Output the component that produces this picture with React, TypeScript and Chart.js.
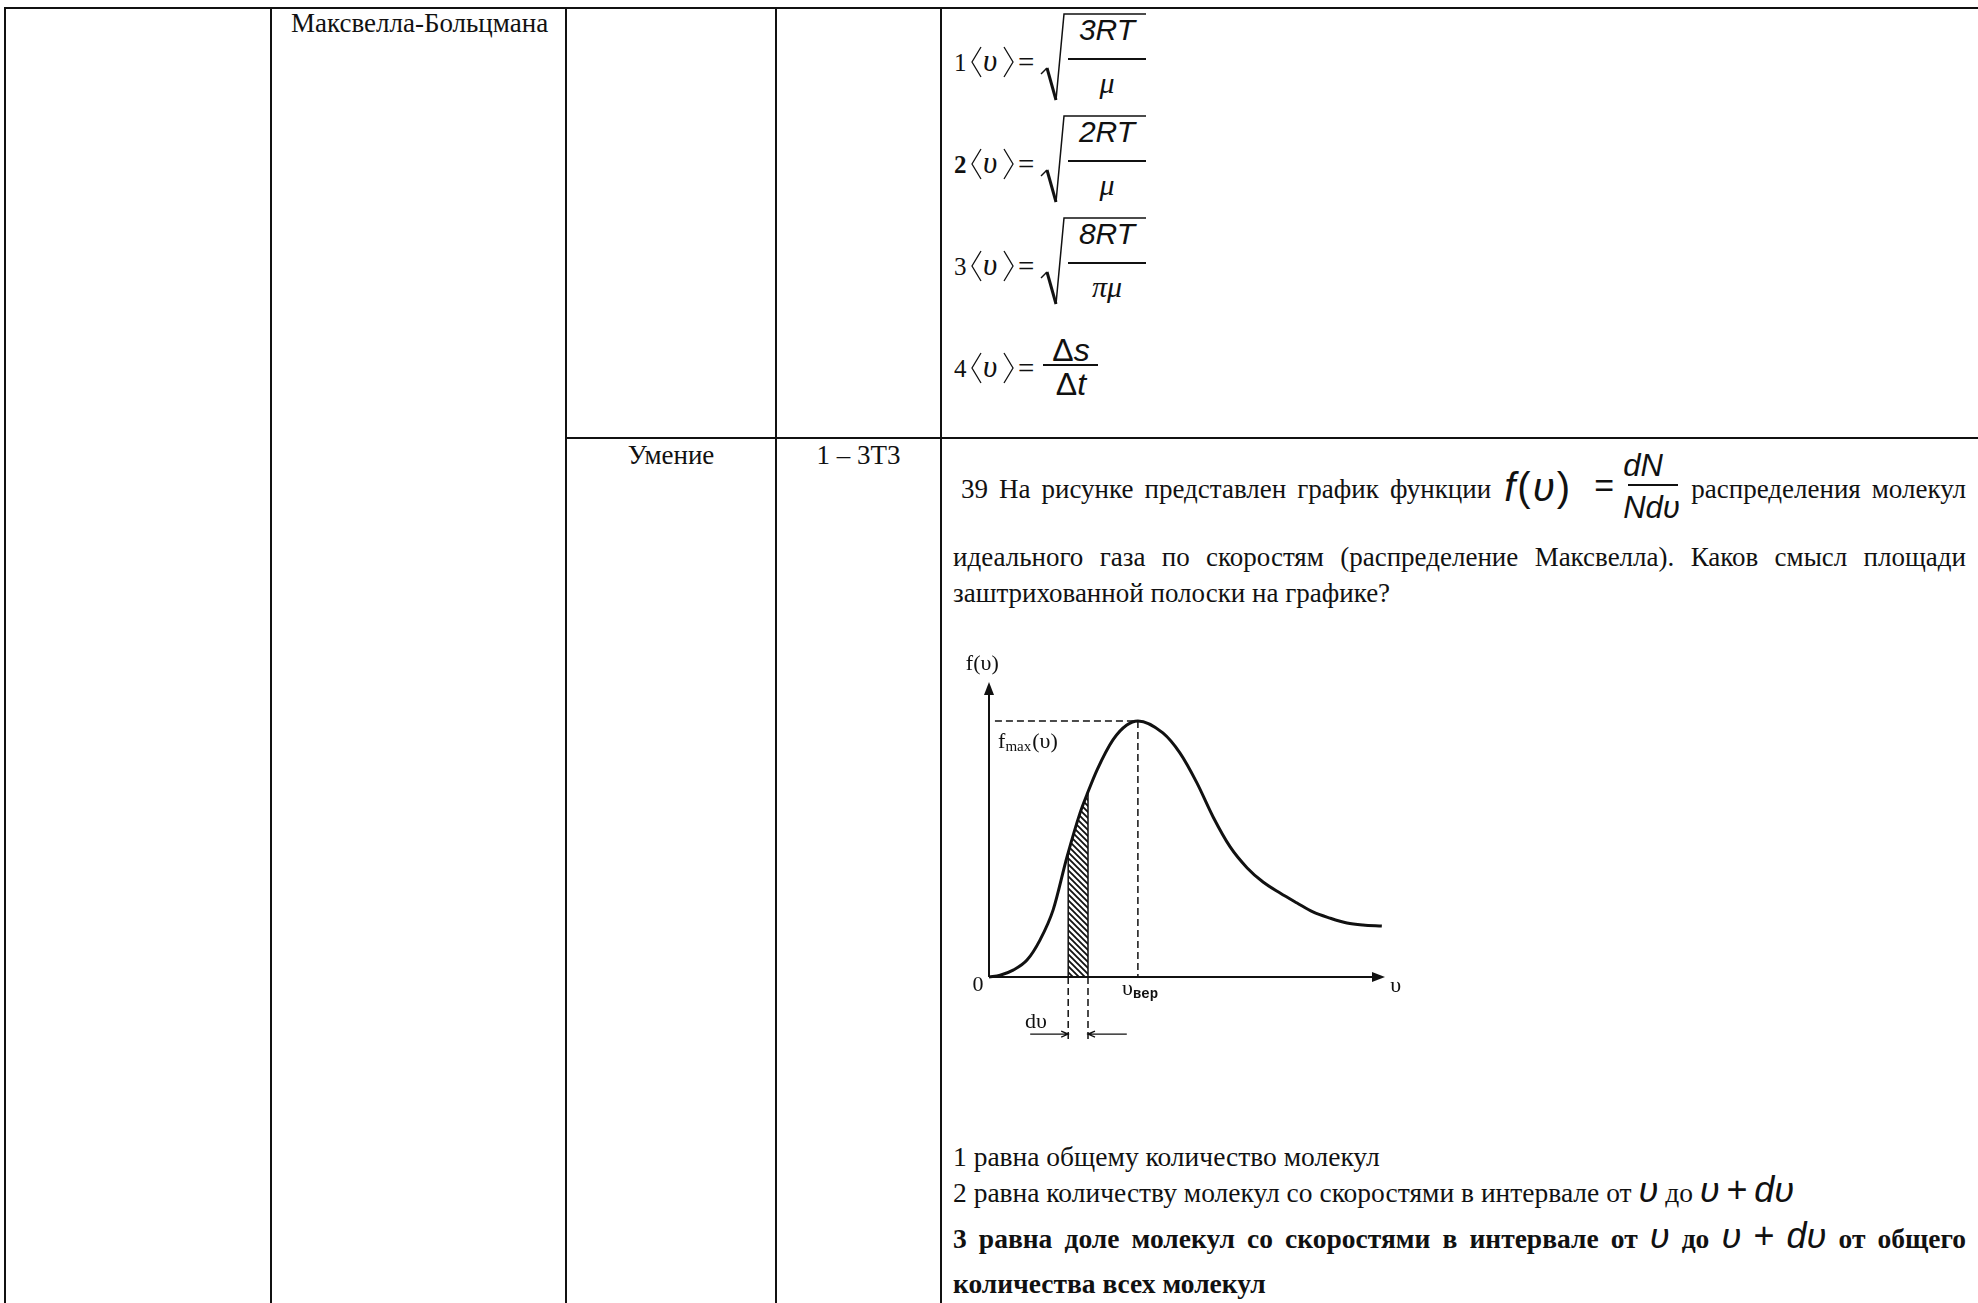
import React, { useEffect, useRef } from "react";
import { Chart, registerables } from "chart.js";

Chart.register(...registerables);

const INK = "#111111";
const SERIF = '"Liberation Serif", "Times New Roman", serif';
const SANS = '"Liberation Sans", Arial, sans-serif';
const MONO = '"Liberation Mono", "Courier New", monospace';
const FS = 27;

// ---------- chart data (Maxwell distribution sketch) ----------
const speedValues = [0, 0.28, 0.61, 0.96, 1.29, 1.62, 1.97, 2.3, 2.47, 2.73, 3.13, 3.48, 3.76, 4.39, 4.82, 5.25, 5.66, 6.09, 6.52, 6.92, 7.35, 7.78, 8.18, 8.61, 9.04, 9.44, 9.92];
const densityValues = [0, 0.007, 0.027, 0.066, 0.145, 0.262, 0.469, 0.641, 0.711, 0.809, 0.926, 0.984, 1.0, 0.953, 0.875, 0.758, 0.625, 0.508, 0.426, 0.371, 0.328, 0.289, 0.254, 0.23, 0.211, 0.203, 0.199];
const stripSpeeds = [2.0, 2.25, 2.5];
const stripDensities = [0.487, 0.615, 0.722];
const peakSpeed = 3.76;
const peakDensity = 1.0;
const speedAxisMax = 10;
const densityAxisMax = 1.152;
const chartLabels = ["f(υ)", "f", "max", "(υ)", "0", "υ", "вер", "υ", "dυ"];

// ---------- document text ----------
const topicText = "Максвелла-Больцмана";
const skillText = "Умение";
const taskTypeText = "1 – 3Т3";
const optionNumbers = ["1", "2", "3", "4"];
const radicandNumerators = ["3RT", "2RT", "8RT"];
const radicandDenominators = ["μ", "μ", "πμ"];
const questionLine1 = ["39 На рисунке представлен график функции", "распределения молекул"];
const questionLine2 = "идеального газа по скоростям (распределение Максвелла). Каков смысл площади";
const questionLine3 = "заштрихованной полоски на графике?";
const answer1 = "1 равна общему количество молекул";
const answer2 = "2 равна количеству молекул со скоростями в интервале от";
const answer3 = "3 равна доле молекул со скоростями в интервале от";
const answer3tail = "от общего";
const answer4 = "количества всех молекул";

function Txt(p: any) {
  const size = p.size ?? FS;
  const font = p.font ?? SERIF;
  const asc = font === SANS ? 0.8465 : 0.8375;
  return (
    <div
      style={{
        position: "absolute",
        left: p.x,
        top: p.base - asc * size,
        width: p.w,
        whiteSpace: p.w ? "normal" : "nowrap",
        fontFamily: font,
        fontSize: size,
        lineHeight: size + "px",
        fontWeight: p.bold ? 700 : 400,
        fontStyle: p.italic ? "italic" : "normal",
        textAlign: p.align ?? "left",
        textAlignLast: p.justify ? "justify" : undefined,
        letterSpacing: p.ls,
        color: INK,
      }}
    >
      {p.children}
    </div>
  );
}

function M(p: any) {
  return (
    <span style={{ fontFamily: SANS, fontStyle: p.up ? "normal" : "italic", fontSize: p.size ?? 36, lineHeight: 0, fontWeight: 400 }}>
      {p.children}
    </span>
  );
}

function Rule(p: any) {
  return <div style={{ position: "absolute", left: p.x, top: p.y, width: p.w, height: p.h, background: INK }} />;
}

function InlineFraction() {
  const abs = (left: number, base: number, size: number, font: string, italic: boolean, extra: any = {}) => ({
    position: "absolute" as const,
    left,
    top: base - (font === SANS ? 0.8465 : 0.8375) * size,
    fontFamily: font,
    fontSize: size,
    lineHeight: size + "px",
    fontStyle: italic ? "italic" : "normal",
    whiteSpace: "nowrap" as const,
    ...extra,
  });
  return (
    <span style={{ display: "inline-block", position: "relative", width: 178, height: 0, verticalAlign: "baseline" }}>
      <span style={abs(2, 2, 40, SANS, false, { letterSpacing: 2 })}>
        <i>f</i>(<i>υ</i>)
      </span>
      <span style={abs(92, -2, 34, SANS, false)}>=</span>
      <span style={{ position: "absolute", left: 126, top: -14, width: 50, height: 2, background: INK }} />
      <span style={abs(121, -22, 31, SANS, true, { width: 60, textAlign: "center" })}>dN</span>
      <span style={abs(121, 20, 31, SANS, true, { width: 60, textAlign: "center" })}>Nd&#965;</span>
    </span>
  );
}

function Formulas() {
  const step = 102;
  const items: any[] = [];
  optionNumbers.forEach((n, k) => {
    const T = k * step;
    items.push(
      <Txt key={"n" + k} x={954} base={71 + T} size={25} bold={k === 1}>
        {n}
      </Txt>
    );
    items.push(
      <Txt key={"u" + k} x={983} base={71 + T} size={31} italic>
        υ
      </Txt>
    );
    items.push(
      <Txt key={"e" + k} x={1018} base={72 + T} size={29}>
        =
      </Txt>
    );
    if (k < 3) {
      items.push(
        <Txt key={"num" + k} x={1066} w={82} align="center" base={40 + T} size={30} font={SANS} italic>
          {radicandNumerators[k]}
        </Txt>
      );
      items.push(<Rule key={"bar" + k} x={1068} y={58 + T} w={78} h={2} />);
      items.push(
        <Txt key={"den" + k} x={1068} w={78} align="center" base={93 + T} size={30} italic>
          {radicandDenominators[k]}
        </Txt>
      );
    } else {
      items.push(
        <Txt key="num4" x={1043} w={56} align="center" base={55 + T} size={32} font={SANS}>
          Δ<i>s</i>
        </Txt>
      );
      items.push(<Rule key="bar4" x={1043} y={58 + T} w={55} h={2} />);
      items.push(
        <Txt key="den4" x={1043} w={56} align="center" base={89 + T} size={32} font={SANS}>
          Δ<i>t</i>
        </Txt>
      );
    }
  });
  const shapes: any[] = [];
  optionNumbers.forEach((_, k) => {
    const T = k * step;
    shapes.push(<polyline key={"lb" + k} points={`981,${47 + T} 972,${62 + T} 981,${77 + T}`} fill="none" stroke={INK} strokeWidth={1.3} />);
    shapes.push(<polyline key={"rb" + k} points={`1004,${47 + T} 1013,${62 + T} 1004,${77 + T}`} fill="none" stroke={INK} strokeWidth={1.3} />);
    if (k < 3) {
      shapes.push(<polyline key={"r1" + k} points={`1041,${74 + T} 1047,${68 + T}`} fill="none" stroke={INK} strokeWidth={1.4} />);
      shapes.push(<polyline key={"r2" + k} points={`1047,${68 + T} 1056,${100 + T}`} fill="none" stroke={INK} strokeWidth={3} />);
      shapes.push(<polyline key={"r3" + k} points={`1056,${100 + T} 1064,${14 + T} 1146,${14 + T}`} fill="none" stroke={INK} strokeWidth={1.5} />);
    }
  });
  return (
    <>
      <svg style={{ position: "absolute", left: 0, top: 0 }} width={1978} height={440}>
        {shapes}
      </svg>
      {items}
    </>
  );
}

function MaxwellChart() {
  const ref = useRef<HTMLCanvasElement | null>(null);
  useEffect(() => {
    const canvas = ref.current!;
    const ctx0 = canvas.getContext("2d")!;
    const tile = document.createElement("canvas");
    const s = 6;
    tile.width = s;
    tile.height = s;
    const g = tile.getContext("2d")!;
    g.strokeStyle = INK;
    g.lineWidth = 1.8;
    g.beginPath();
    for (const k of [-s, 0, s]) {
      g.moveTo(-1, -1 + k);
      g.lineTo(s + 1, s + 1 + k);
    }
    g.stroke();
    const hatch = ctx0.createPattern(tile, "repeat");

    const decor = {
      id: "maxwellDecor",
      afterDatasetsDraw(chart: any) {
        const ctx = chart.ctx;
        const xs = chart.scales.x;
        const ys = chart.scales.y;
        const X = (v: number) => xs.getPixelForValue(v);
        const Y = (f: number) => ys.getPixelForValue(f);
        ctx.save();
        ctx.strokeStyle = INK;
        ctx.fillStyle = INK;
        // axes
        ctx.lineWidth = 2;
        ctx.beginPath();
        ctx.moveTo(X(0), Y(0));
        ctx.lineTo(X(speedAxisMax) - 8, Y(0));
        ctx.moveTo(X(0), Y(0));
        ctx.lineTo(X(0), Y(densityAxisMax) + 8);
        ctx.stroke();
        ctx.beginPath();
        ctx.moveTo(X(speedAxisMax), Y(0));
        ctx.lineTo(X(speedAxisMax) - 13, Y(0) - 5);
        ctx.lineTo(X(speedAxisMax) - 13, Y(0) + 5);
        ctx.closePath();
        ctx.fill();
        ctx.beginPath();
        ctx.moveTo(X(0), Y(densityAxisMax));
        ctx.lineTo(X(0) - 5, Y(densityAxisMax) + 13);
        ctx.lineTo(X(0) + 5, Y(densityAxisMax) + 13);
        ctx.closePath();
        ctx.fill();
        // dashed guides to the peak
        ctx.lineWidth = 1.5;
        ctx.setLineDash([7, 4]);
        ctx.beginPath();
        ctx.moveTo(X(0.15), Y(peakDensity));
        ctx.lineTo(X(peakSpeed), Y(peakDensity));
        ctx.moveTo(X(peakSpeed), Y(peakDensity));
        ctx.lineTo(X(peakSpeed), Y(0));
        const a = stripSpeeds[0];
        const b = stripSpeeds[stripSpeeds.length - 1];
        ctx.moveTo(X(a), Y(0));
        ctx.lineTo(X(a), Y(-0.246));
        ctx.moveTo(X(b), Y(0));
        ctx.lineTo(X(b), Y(-0.246));
        ctx.stroke();
        ctx.setLineDash([]);
        // strip edges
        ctx.beginPath();
        ctx.moveTo(X(a), Y(0));
        ctx.lineTo(X(a), Y(stripDensities[0]));
        ctx.moveTo(X(b), Y(0));
        ctx.lineTo(X(b), Y(stripDensities[stripDensities.length - 1]));
        ctx.stroke();
        // dv arrows
        const ay = Y(-0.223);
        ctx.lineWidth = 1.3;
        ctx.beginPath();
        ctx.moveTo(X(1.04), ay);
        ctx.lineTo(X(a), ay);
        ctx.moveTo(X(a) - 7, ay - 3);
        ctx.lineTo(X(a), ay);
        ctx.lineTo(X(a) - 7, ay + 3);
        ctx.moveTo(X(3.48), ay);
        ctx.lineTo(X(b), ay);
        ctx.moveTo(X(b) + 7, ay - 3);
        ctx.lineTo(X(b), ay);
        ctx.lineTo(X(b) + 7, ay + 3);
        ctx.stroke();
        // labels
        ctx.textBaseline = "alphabetic";
        ctx.font = `22px ${SERIF}`;
        ctx.textAlign = "center";
        ctx.fillText(chartLabels[0], X(-0.17), Y(1.2));
        ctx.fillText(chartLabels[4], X(-0.28), Y(-0.055));
        ctx.textAlign = "left";
        let fx = X(0.23);
        const fy = Y(0.895);
        ctx.fillText(chartLabels[1], fx, fy);
        fx += ctx.measureText(chartLabels[1]).width;
        ctx.font = `15px ${SERIF}`;
        ctx.fillText(chartLabels[2], fx, fy + 3);
        fx += ctx.measureText(chartLabels[2]).width + 1;
        ctx.font = `22px ${SERIF}`;
        ctx.fillText(chartLabels[3], fx, fy);
        let vx = X(3.36);
        const vy = Y(-0.07);
        ctx.fillText(chartLabels[5], vx, vy);
        vx += ctx.measureText(chartLabels[5]).width;
        ctx.font = `bold 14px ${MONO}`;
        ctx.fillText(chartLabels[6], vx, vy + 3);
        ctx.font = `22px ${SERIF}`;
        ctx.fillText(chartLabels[7], X(10.13), Y(-0.06));
        ctx.fillText(chartLabels[8], X(0.91), Y(-0.2));
        ctx.restore();
      },
    };

    const chart = new Chart(canvas, {
      type: "scatter",
      data: {
        datasets: [
          {
            data: speedValues.map((v, i) => ({ x: v, y: densityValues[i] })),
            showLine: true,
            borderColor: INK,
            borderWidth: 3,
            pointRadius: 0,
            cubicInterpolationMode: "monotone",
            fill: false,
            clip: false as any,
          },
          {
            data: stripSpeeds.map((v, i) => ({ x: v, y: stripDensities[i] })),
            showLine: true,
            borderWidth: 0,
            borderColor: "rgba(0,0,0,0)",
            pointRadius: 0,
            fill: "origin",
            backgroundColor: hatch as any,
          },
        ],
      },
      options: {
        animation: false,
        responsive: false,
        events: [],
        layout: { padding: { left: 49, top: 42, right: 35, bottom: 83 }, autoPadding: false } as any,
        scales: {
          x: { type: "linear", min: 0, max: speedAxisMax, display: false },
          y: { type: "linear", min: 0, max: densityAxisMax, display: false },
        },
        plugins: { legend: { display: false }, tooltip: { enabled: false }, title: { display: false } },
      },
      plugins: [decor],
    });
    return () => chart.destroy();
  }, []);
  return <canvas ref={ref} width={480} height={420} style={{ position: "absolute", left: 940, top: 640, width: 480, height: 420 }} />;
}

export default function App() {
  return (
    <div style={{ position: "absolute", left: 0, top: 0, width: 1978, height: 1303, overflow: "hidden", background: "#fff", color: INK }}>
      {/* table grid */}
      <Rule x={4} y={7} w={1974} h={2} />
      <Rule x={4} y={7} w={2} h={1296} />
      <Rule x={270} y={7} w={2} h={1296} />
      <Rule x={565} y={7} w={2} h={1296} />
      <Rule x={775} y={7} w={2} h={1296} />
      <Rule x={940} y={7} w={2} h={1296} />
      <Rule x={565} y={437} w={1413} h={2} />

      <Txt x={291} base={33}>{topicText}</Txt>
      <Txt x={567} w={208} align="center" base={465}>{skillText}</Txt>
      <Txt x={777} w={163} align="center" base={465}>{taskTypeText}</Txt>

      <Formulas />

      <Txt x={961} w={1005} base={499} justify>
        {questionLine1[0]} <InlineFraction /> {questionLine1[1]}
      </Txt>
      <Txt x={953} w={1013} base={567} justify>
        {questionLine2}
      </Txt>
      <Txt x={953} base={603}>{questionLine3}</Txt>

      <MaxwellChart />

      <Txt x={953} base={1166} size={27.5}>{answer1}</Txt>
      <Txt x={953} base={1202} size={27.5}>
        {answer2} <M>υ</M> до <M>υ</M> <M up>+</M> <M>dυ</M>
      </Txt>
      <Txt x={953} w={1013} base={1248} size={27.5} bold justify>
        {answer3} <M>υ</M> до <M>υ</M> <M up>+</M> <M>dυ</M> {answer3tail}
      </Txt>
      <Txt x={953} base={1293} size={27.5} bold>{answer4}</Txt>
    </div>
  );
}
